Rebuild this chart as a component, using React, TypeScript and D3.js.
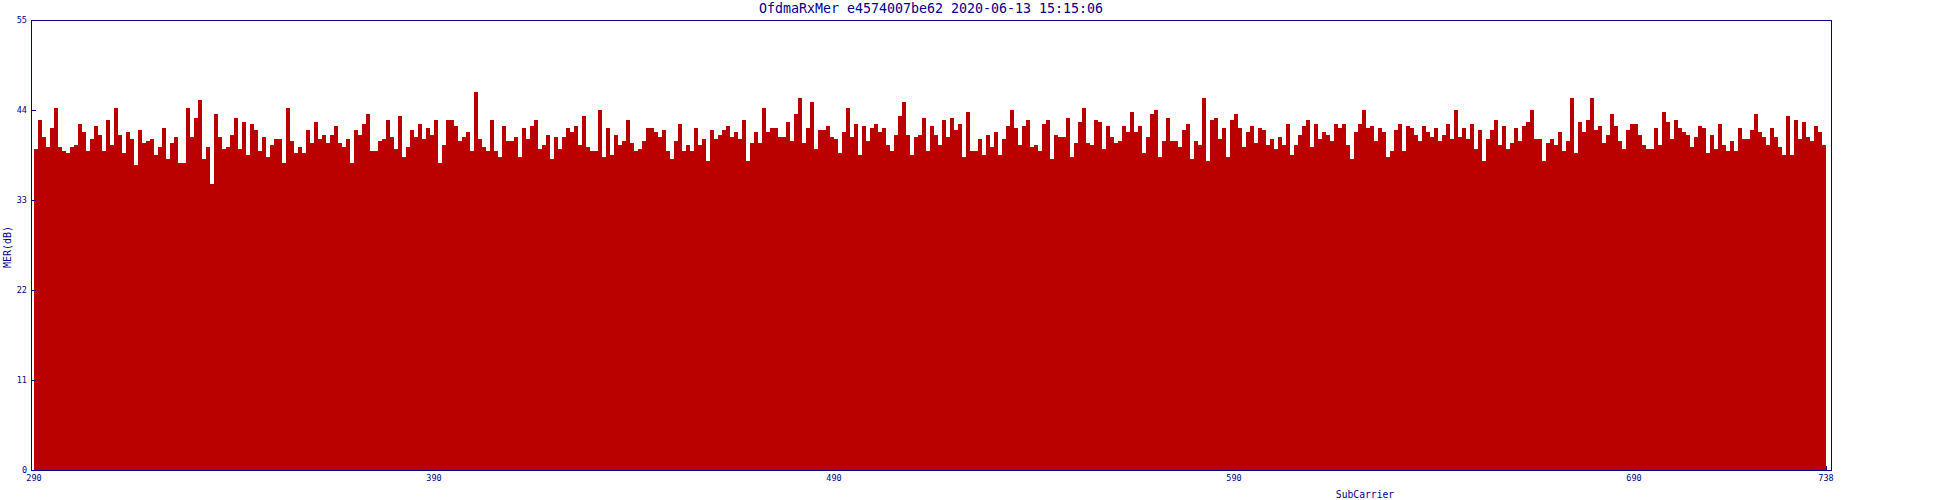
import React from "react";
import * as d3 from "d3";

const chartTitle = "OfdmaRxMer e4574007be62 2020-06-13 15:15:06";
const xAxisLabel = "SubCarrier";
const yAxisLabel = "MER(dB)";
const firstSubCarrier = 290;
const xTicks = [290, 390, 490, 590, 690, 738];
const yTicks = [0, 11, 22, 33, 44, 55];

// MER per subcarrier, 290..737
const merValues = [
  // 290-338
  39.2, 42.8, 40.7, 39.5, 41.8, 44.2, 39.5, 39.0, 38.7, 39.5,
  39.7, 42.3, 41.3, 39.0, 40.5, 42.0, 41.0, 39.0, 42.8, 39.7,
  44.2, 41.0, 38.7, 41.3, 40.5, 37.3, 41.6, 40.0, 40.2, 40.5,
  38.5, 39.5, 41.8, 38.0, 40.0, 40.7, 37.5, 37.5, 44.2, 40.7,
  43.0, 45.2, 38.0, 39.5, 35.0, 43.5, 40.7, 39.2, 39.5,
  // 339-388
  41.0, 43.0, 39.2, 42.5, 38.5, 42.3, 41.6, 39.0, 40.7, 38.3,
  39.7, 40.5, 40.5, 37.5, 44.2, 40.2, 38.7, 39.5, 38.7, 41.6,
  40.0, 42.5, 40.5, 41.0, 40.0, 41.0, 42.0, 40.0, 39.5, 40.5,
  37.5, 41.6, 41.0, 42.3, 43.5, 39.0, 39.0, 40.2, 40.5, 42.8,
  40.7, 39.2, 43.3, 38.3, 39.5, 41.6, 40.7, 42.3, 40.5, 41.8,
  // 389-438
  41.0, 42.8, 37.5, 39.7, 42.8, 42.8, 42.0, 40.2, 40.7, 41.3,
  39.0, 46.2, 40.5, 39.5, 39.0, 42.8, 39.0, 38.3, 42.0, 40.2,
  40.2, 40.7, 38.3, 41.8, 40.5, 42.0, 42.8, 39.2, 39.7, 41.0,
  38.0, 40.7, 39.2, 40.7, 41.8, 41.3, 42.0, 39.7, 43.3, 39.5,
  39.0, 39.0, 44.0, 38.3, 41.8, 38.5, 41.0, 39.7, 40.2, 42.8,
  // 439-488
  40.0, 39.0, 39.2, 40.2, 41.8, 41.8, 41.3, 40.7, 41.6, 39.0,
  38.0, 40.2, 42.3, 39.0, 39.7, 39.0, 41.8, 39.7, 40.5, 37.8,
  41.6, 40.5, 41.0, 41.6, 42.0, 40.7, 41.3, 40.5, 42.8, 37.8,
  40.0, 41.3, 40.0, 44.2, 41.3, 41.8, 41.8, 40.7, 40.7, 42.5,
  40.2, 43.5, 45.5, 40.0, 41.8, 45.0, 39.2, 41.6, 41.6, 42.0,
  // 489-538
  40.7, 40.5, 38.7, 41.3, 44.2, 40.7, 42.3, 38.5, 42.0, 40.2,
  41.8, 42.3, 41.3, 41.8, 39.7, 39.0, 41.0, 43.3, 45.0, 41.0,
  38.5, 40.7, 41.0, 43.0, 39.0, 42.0, 41.0, 39.7, 42.8, 40.7,
  43.0, 41.6, 42.3, 38.3, 43.8, 39.0, 39.0, 40.5, 38.5, 41.0,
  39.5, 41.3, 38.5, 40.5, 42.0, 44.0, 41.8, 39.7, 42.0, 42.8,
  // 539-588
  39.5, 39.7, 39.0, 42.3, 42.8, 38.0, 41.0, 40.7, 40.7, 43.0,
  38.3, 40.0, 42.5, 44.2, 40.0, 39.7, 42.8, 42.5, 39.2, 42.0,
  40.7, 40.0, 40.2, 42.0, 41.3, 43.8, 41.3, 42.0, 38.7, 40.7,
  43.5, 44.0, 38.3, 40.2, 43.0, 40.2, 40.2, 39.5, 41.6, 42.3,
  38.0, 40.2, 39.7, 45.5, 37.8, 42.8, 43.0, 40.5, 41.8, 38.3,
  // 589-638
  42.8, 43.5, 41.8, 39.5, 41.3, 42.0, 40.0, 41.8, 41.6, 39.7,
  40.5, 39.2, 40.7, 39.7, 42.3, 38.5, 39.7, 41.0, 42.0, 42.8,
  39.5, 42.3, 40.5, 41.3, 41.0, 40.2, 42.3, 41.8, 42.3, 39.7,
  38.0, 41.3, 42.3, 44.0, 41.8, 42.0, 40.2, 41.8, 41.3, 38.3,
  39.0, 41.6, 42.3, 39.0, 42.0, 41.8, 41.0, 40.2, 42.0, 41.3,
  // 639-688
  40.7, 41.8, 40.2, 41.0, 42.3, 40.5, 44.0, 40.7, 41.8, 40.5,
  42.3, 39.2, 41.6, 37.8, 40.5, 41.6, 42.8, 39.7, 42.0, 39.2,
  40.0, 41.8, 40.2, 42.0, 42.5, 44.0, 40.5, 40.5, 37.8, 40.0,
  40.5, 39.7, 41.3, 39.0, 40.2, 45.5, 38.7, 42.5, 41.3, 42.8,
  45.5, 41.6, 42.0, 40.0, 41.0, 43.5, 42.0, 40.2, 39.2, 41.6,
  // 689-737
  42.3, 42.3, 41.0, 39.7, 39.2, 39.2, 41.8, 39.7, 43.8, 42.5,
  40.5, 42.8, 41.8, 41.3, 41.0, 39.5, 40.7, 42.0, 41.8, 38.7,
  41.0, 39.2, 42.3, 39.7, 39.0, 40.2, 39.0, 41.8, 40.5, 40.5,
  41.6, 43.5, 41.3, 40.7, 39.7, 41.8, 40.7, 39.5, 38.5, 43.3,
  38.5, 42.8, 40.5, 42.5, 40.7, 40.2, 42.0, 41.3, 39.7,
];

const subCarriers = merValues.map((_, i) => firstSubCarrier + i);

const W = 1950;
const H = 500;
const frame = { left: 31, right: 1831, top: 20, bottom: 470 };
const navy = "#000088";
const barColor = "#bb0000";
const mono = "'DejaVu Sans Mono', 'Liberation Mono', monospace";

export default function App() {
  const x = d3.scaleLinear().domain([290, 738]).range([34, 1826]);
  const y = d3.scaleLinear().domain([0, 55]).range([frame.bottom, frame.top]);

  return (
    <svg
      width={W}
      height={H}
      style={{ position: "absolute", left: 0, top: 0, background: "#fff" }}
      fontFamily={mono}
    >
      <rect x={0} y={0} width={W} height={H} fill="#fff" />
      {/* x ticks (inward) */}
      {xTicks.map((t) => (
        <line
          key={"xt" + t}
          x1={Math.round(x(t)) + 0.5}
          x2={Math.round(x(t)) + 0.5}
          y1={frame.bottom}
          y2={frame.bottom - 4}
          stroke={navy}
          shapeRendering="crispEdges"
        />
      ))}
      {/* bars */}
      <g shapeRendering="crispEdges">
        {merValues.map((v, i) => {
          const sc = subCarriers[i];
          const x0 = x(sc);
          const x1 = x(sc + 1);
          return (
            <rect
              key={sc}
              x={x0}
              y={y(v)}
              width={x1 - x0}
              height={y(0) - y(v)}
              fill={barColor}
            />
          );
        })}
      </g>
      {/* frame */}
      <rect
        x={frame.left + 0.5}
        y={frame.top + 0.5}
        width={frame.right - frame.left}
        height={frame.bottom - frame.top}
        fill="none"
        stroke={navy}
        strokeWidth={1}
        shapeRendering="crispEdges"
      />
      {/* y ticks */}
      {yTicks.map((t) => (
        <g key={"yt" + t}>
          <line
            x1={frame.left}
            x2={frame.left + 5}
            y1={Math.round(y(t)) + 0.5}
            y2={Math.round(y(t)) + 0.5}
            stroke={navy}
            shapeRendering="crispEdges"
          />
          <text
            x={27}
            y={y(t) + 3}
            textAnchor="end"
            fontSize={8.5}
            fill={navy}
          >
            {t}
          </text>
        </g>
      ))}
      {/* x tick labels */}
      {xTicks.map((t) => (
        <text
          key={"xl" + t}
          x={x(t)}
          y={481}
          textAnchor="middle"
          fontSize={8.5}
          fill={navy}
        >
          {t}
        </text>
      ))}
      {/* title */}
      <text
        x={(frame.left + frame.right) / 2}
        y={13}
        textAnchor="middle"
        fontSize={13.3}
        fill={navy}
      >
        {chartTitle}
      </text>
      {/* axis labels */}
      <text x={1365} y={498} textAnchor="middle" fontSize={9.7} fill={navy}>
        {xAxisLabel}
      </text>
      <text
        transform="translate(11,247) rotate(-90)"
        textAnchor="middle"
        fontSize={10}
        fill={navy}
      >
        {yAxisLabel}
      </text>
    </svg>
  );
}
